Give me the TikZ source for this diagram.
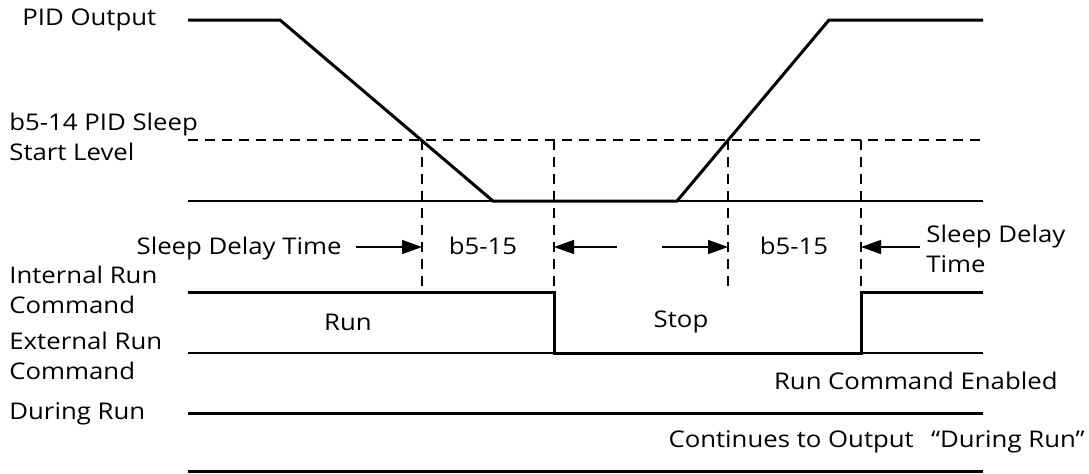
\documentclass[tikz,border=0pt]{standalone}
\usepackage{fontspec}
\setmainfont{Open Sans}[FakeStretch=1.12]
\usepackage{xcolor}
\usepackage{tikz}
\usetikzlibrary{arrows.meta, positioning}
\definecolor{mydark}{RGB}{0,0,0}
\tikzset{
  lbl/.style={font=\fontsize{11.5}{15}\selectfont, text=mydark, inner sep=0pt, align=left},
  sig/.style={line width=1.5pt, color=mydark},
  base/.style={line width=0.75pt, color=mydark},
  guide/.style={dash pattern=on 5pt off 3.5pt, line width=0.7pt, color=mydark},
  arrow/.style={-{Triangle[length=10pt, width=7pt]}, line width=0.75pt, color=mydark}
}
\begin{document}
\begin{tikzpicture}[x=0.5pt, y=-0.5pt]
  \useasboundingbox (0,0) rectangle (1089,473);

  % Signal names on the left
  \node[lbl, anchor=west] (pidlbl) at (22,20) {PID Output};
  \node[lbl, anchor=west] (levellbl) at (9,137) {b5-14 PID Sleep\\Start Level};
  \node[lbl, anchor=west] (intlbl) at (9,290) {Internal Run\\Command};
  \node[lbl, anchor=west] (extlbl) at (9,356) {External Run\\Command};
  \node[lbl, anchor=west] (durlbl) at (9,414) {During Run};

  % Sleep start level and crossing times (dashed)
  \draw[guide] (188,140) -- (983,140);
  \foreach \x/\y in {422/286, 554/292, 728/286, 861/292} {
    \draw[guide] (\x,140) -- (\x,\y);
  }

  % PID output
  \draw[base] (188,201) -- (983,201);
  \draw[sig] (188,20) -- (280,20) -- (493,201) -- (677,201) -- (829,20) -- (983,20);

  % Internal and external run command
  \draw[base] (188,353) -- (983,353);
  \draw[sig] (188,292) -- (554,292) -- (554,353) -- (861,353) -- (861,292) -- (983,292);
  \node[lbl] (runlbl) at (348,322) {Run};
  \node[lbl] (stoplbl) at (681,322) {Stop};
  \node[lbl, anchor=east] (enlbl) at (1058,381) {Run Command Enabled};

  % During run output
  \draw[sig] (188,413) -- (983,413);
  \draw[sig] (188,471) -- (983,471);
  \node[lbl, anchor=east] (contlbl) at (1085,442) {Continues to Output\hspace{0.75em}“During Run”};

  % Sleep delay time b5-15
  \node[lbl, anchor=east] (sdleft) at (342,249) {Sleep Delay Time};
  \node[lbl, anchor=west] (sdright) at (926,249) {Sleep Delay\\Time};
  \node[lbl] (dly1) at (483,246) {b5-15};
  \node[lbl] (dly2) at (794,246) {b5-15};
  \coordinate (ta) at (356,247);
  \coordinate (ha) at (422,247);
  \coordinate (tb) at (617,247);
  \coordinate (hb) at (554,247);
  \coordinate (tc) at (662,247);
  \coordinate (hc) at (728,247);
  \coordinate (td) at (920,247);
  \coordinate (hd) at (861,247);
  \draw[arrow] (ta) -- (ha);
  \draw[arrow] (tb) -- (hb);
  \draw[arrow] (tc) -- (hc);
  \draw[arrow] (td) -- (hd);
\end{tikzpicture}
\end{document}
